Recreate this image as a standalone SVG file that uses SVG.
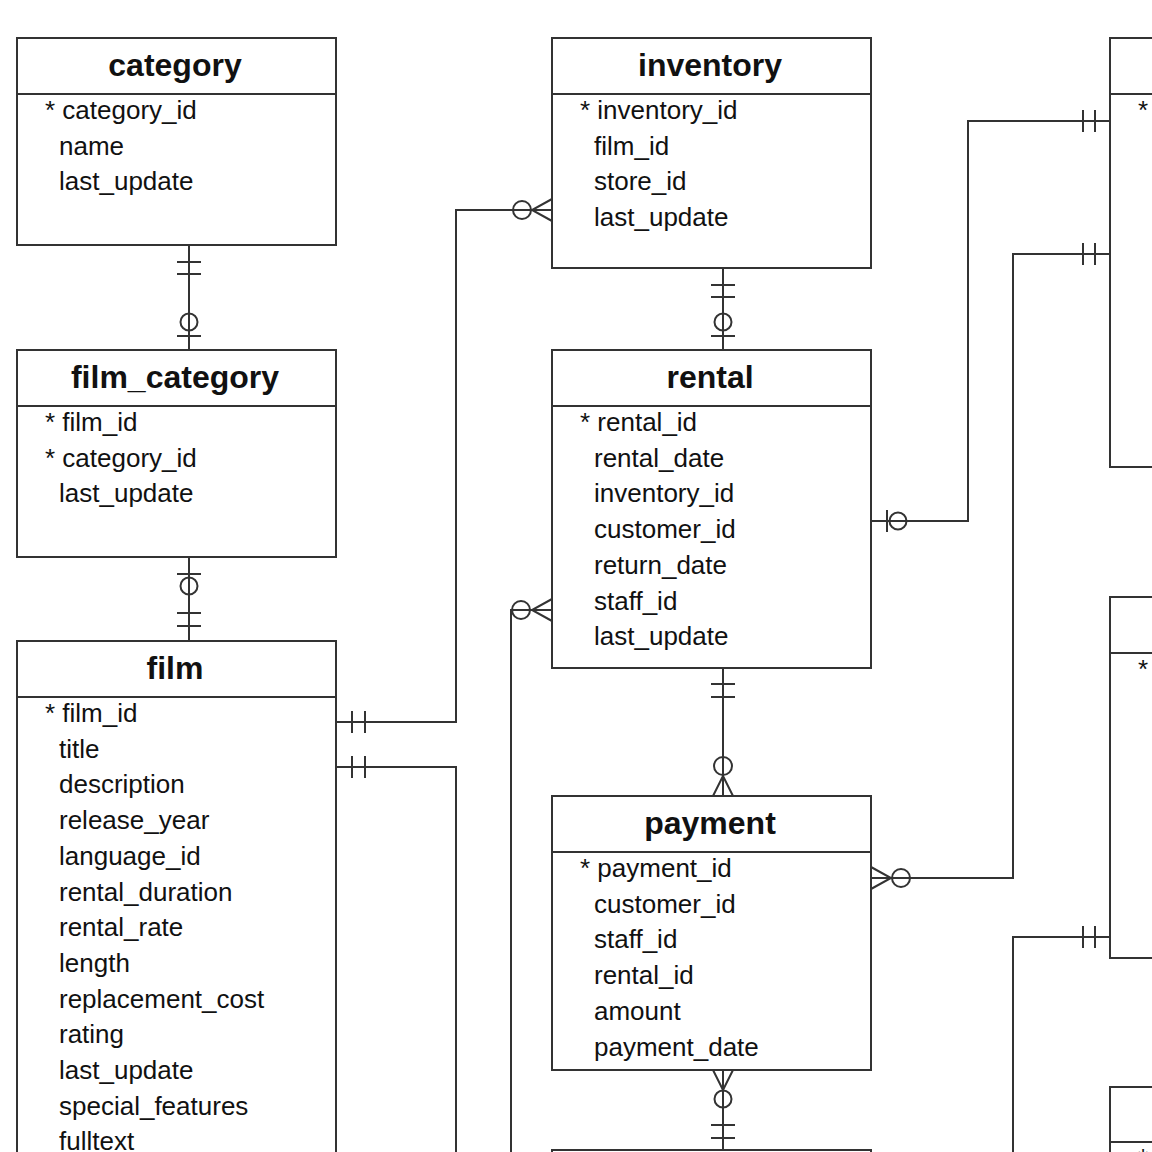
<svg xmlns="http://www.w3.org/2000/svg" width="1152" height="1152" viewBox="0 0 1152 1152">
<style>
.box{fill:#fff;stroke:#333;stroke-width:2}
.div{stroke:#333;stroke-width:2}
.title{font-family:"Liberation Sans",Arial,sans-serif;font-weight:bold;font-size:32px;fill:#111;text-anchor:middle}
.fld{font-family:"Liberation Sans",Arial,sans-serif;font-size:26px;fill:#111}
.ln{fill:none;stroke:#333;stroke-width:2}
</style>
<rect width="1152" height="1152" fill="#fff"/>

<g id="connectors" class="ln">
  <!-- category - film_category -->
  <path d="M189,245 V350 M177,262 H201 M177,274 H201 M177,336 H201"/>
  <circle cx="189" cy="322" r="8.5"/>
  <!-- film_category - film -->
  <path d="M189,557 V641 M177,574 H201 M177,613 H201 M177,626 H201"/>
  <circle cx="189" cy="586" r="8.5"/>
  <!-- inventory - rental -->
  <path d="M723,268 V350 M711,285 H735 M711,297 H735 M711,336 H735"/>
  <circle cx="723" cy="322" r="8.5"/>
  <!-- film - inventory -->
  <path d="M336,722 H456 V210 H552 M352,711 V733 M365,711 V733 M552,199 L532,210 L552,221"/>
  <circle cx="522" cy="210" r="9"/>
  <!-- film - rental (down) -->
  <path d="M336,767 H456 V1152 M352,756 V778 M365,756 V778"/>
  <!-- rental left (down) -->
  <path d="M552,610 H511 V1152 M552,599 L532,610 L552,621"/>
  <circle cx="521" cy="610" r="9"/>
  <!-- rental - payment -->
  <path d="M723,668 V796 M711,684 H735 M711,697 H735 M713,796 L723,776 L733,796"/>
  <circle cx="723" cy="766" r="9"/>
  <!-- rental - right box 1 -->
  <path d="M871,521 H968 V121 H1110 M887,510 V532 M1083,110 V132 M1095,110 V132"/>
  <circle cx="898" cy="521" r="8.5"/>
  <!-- payment - right box 1 -->
  <path d="M871,878 H1013 V254 H1110 M871,867 L891,878 L871,889 M1083,243 V265 M1095,243 V265"/>
  <circle cx="901" cy="878" r="9"/>
  <!-- right box 2 (from below) -->
  <path d="M1013,1152 V937 H1110 M1083,926 V948 M1095,926 V948"/>
  <!-- payment - bottom -->
  <path d="M723,1070 V1152 M713,1070 L723,1090 L733,1070 M711,1125 H735 M711,1138 H735"/>
  <circle cx="723" cy="1099" r="8.5"/>
</g>

<g id="category">
  <rect class="box" x="17" y="38" width="319" height="207"/>
  <line class="div" x1="17" y1="94" x2="336" y2="94"/>
  <text class="title" x="175" y="76">category</text>
  <text class="fld" x="45" y="119">* category_id</text>
  <text class="fld" x="59" y="154.7">name</text>
  <text class="fld" x="59" y="190.4">last_update</text>
</g>

<g id="film_category">
  <rect class="box" x="17" y="350" width="319" height="207"/>
  <line class="div" x1="17" y1="406" x2="336" y2="406"/>
  <text class="title" x="175" y="388">film_category</text>
  <text class="fld" x="45" y="431">* film_id</text>
  <text class="fld" x="45" y="466.7">* category_id</text>
  <text class="fld" x="59" y="502.4">last_update</text>
</g>

<g id="film">
  <rect class="box" x="17" y="641" width="319" height="560"/>
  <line class="div" x1="17" y1="697" x2="336" y2="697"/>
  <text class="title" x="175" y="679">film</text>
  <text class="fld" x="45" y="722">* film_id</text>
  <text class="fld" x="59" y="757.7">title</text>
  <text class="fld" x="59" y="793.4">description</text>
  <text class="fld" x="59" y="829.1">release_year</text>
  <text class="fld" x="59" y="864.8">language_id</text>
  <text class="fld" x="59" y="900.5">rental_duration</text>
  <text class="fld" x="59" y="936.2">rental_rate</text>
  <text class="fld" x="59" y="971.9">length</text>
  <text class="fld" x="59" y="1007.6">replacement_cost</text>
  <text class="fld" x="59" y="1043.3">rating</text>
  <text class="fld" x="59" y="1079">last_update</text>
  <text class="fld" x="59" y="1114.7">special_features</text>
  <text class="fld" x="59" y="1150.4">fulltext</text>
</g>

<g id="inventory">
  <rect class="box" x="552" y="38" width="319" height="230"/>
  <line class="div" x1="552" y1="94" x2="871" y2="94"/>
  <text class="title" x="710" y="76">inventory</text>
  <text class="fld" x="580" y="119">* inventory_id</text>
  <text class="fld" x="594" y="154.7">film_id</text>
  <text class="fld" x="594" y="190.4">store_id</text>
  <text class="fld" x="594" y="226.1">last_update</text>
</g>

<g id="rental">
  <rect class="box" x="552" y="350" width="319" height="318"/>
  <line class="div" x1="552" y1="406" x2="871" y2="406"/>
  <text class="title" x="710" y="388">rental</text>
  <text class="fld" x="580" y="431">* rental_id</text>
  <text class="fld" x="594" y="466.7">rental_date</text>
  <text class="fld" x="594" y="502.4">inventory_id</text>
  <text class="fld" x="594" y="538.1">customer_id</text>
  <text class="fld" x="594" y="573.8">return_date</text>
  <text class="fld" x="594" y="609.5">staff_id</text>
  <text class="fld" x="594" y="645.2">last_update</text>
</g>

<g id="payment">
  <rect class="box" x="552" y="796" width="319" height="274"/>
  <line class="div" x1="552" y1="852" x2="871" y2="852"/>
  <text class="title" x="710" y="834">payment</text>
  <text class="fld" x="580" y="877">* payment_id</text>
  <text class="fld" x="594" y="912.7">customer_id</text>
  <text class="fld" x="594" y="948.4">staff_id</text>
  <text class="fld" x="594" y="984.1">rental_id</text>
  <text class="fld" x="594" y="1019.8">amount</text>
  <text class="fld" x="594" y="1055.5">payment_date</text>
</g>

<g id="table_bottom">
  <rect class="box" x="552" y="1150" width="319" height="60"/>
</g>

<g id="table_right1">
  <rect class="box" x="1110" y="38" width="120" height="429"/>
  <line class="div" x1="1110" y1="94" x2="1230" y2="94"/>
  <text class="fld" x="1138" y="119">*</text>
</g>

<g id="table_right2">
  <rect class="box" x="1110" y="597" width="120" height="361"/>
  <line class="div" x1="1110" y1="653" x2="1230" y2="653"/>
  <text class="fld" x="1138" y="678">*</text>
</g>

<g id="table_right3">
  <rect class="box" x="1110" y="1087" width="120" height="120"/>
  <line class="div" x1="1110" y1="1142" x2="1230" y2="1142"/>
  <text class="fld" x="1138" y="1167">*</text>
</g>
</svg>
